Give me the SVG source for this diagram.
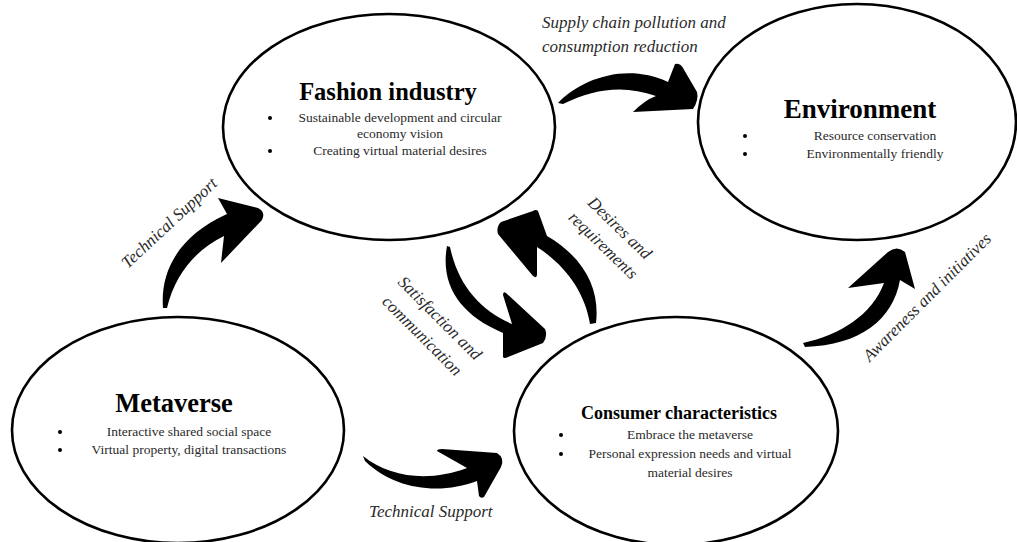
<svg xmlns="http://www.w3.org/2000/svg" width="1017" height="542" viewBox="0 0 1017 542">
<style>
.node ellipse{fill:#fff;stroke:#000;stroke-width:2.6}
.title{font-family:"Liberation Serif",serif;font-weight:bold;fill:#000;text-anchor:middle}
.item{font-family:"Liberation Serif",serif;font-size:13.5px;fill:#2a2a2a;text-anchor:middle}
.bul{fill:#000}
.lbl{font-family:"Liberation Serif",serif;font-style:italic;font-size:17px;fill:#2a2a2a}
.arr{fill:#000}
</style>
<rect width="1017" height="542" fill="#fff"/>
<g id="fashion" class="node">
<ellipse cx="389" cy="127" rx="166" ry="113"/>
<text class="title" x="388" y="100" font-size="24.5">Fashion industry</text>
<circle class="bul" cx="270" cy="118" r="2"/>
<text class="item" x="400" y="122">Sustainable development and circular</text>
<text class="item" x="400" y="138">economy vision</text>
<circle class="bul" cx="270" cy="151" r="2"/>
<text class="item" x="400" y="155">Creating virtual material desires</text>
</g>
<g id="environment" class="node">
<ellipse cx="857" cy="122" rx="159" ry="118"/>
<text class="title" x="860" y="118" font-size="27">Environment</text>
<circle class="bul" cx="745" cy="136" r="2"/>
<text class="item" x="875" y="140">Resource conservation</text>
<circle class="bul" cx="745" cy="154" r="2"/>
<text class="item" x="875" y="158">Environmentally friendly</text>
</g>
<g id="metaverse" class="node">
<ellipse cx="178" cy="430" rx="166" ry="113"/>
<text class="title" x="174" y="412" font-size="26.5">Metaverse</text>
<circle class="bul" cx="60" cy="432" r="2"/>
<text class="item" x="189" y="436">Interactive shared social space</text>
<circle class="bul" cx="60" cy="450" r="2"/>
<text class="item" x="189" y="454">Virtual property, digital transactions</text>
</g>
<g id="consumer" class="node">
<ellipse cx="676" cy="431" rx="162" ry="114"/>
<text class="title" x="679" y="419" font-size="18">Consumer characteristics</text>
<circle class="bul" cx="561" cy="435" r="2"/>
<text class="item" x="690" y="439">Embrace the metaverse</text>
<circle class="bul" cx="561" cy="454" r="2"/>
<text class="item" x="690" y="458">Personal expression needs and virtual</text>
<text class="item" x="690" y="477">material desires</text>
</g>
<g id="connectors">
<path class="arr" d="M163,308 C160,270 180,235 227,214 L218,198 L258,208 Q266,212 262,220 L221,263 L224,236 C195,250 175,275 167,308 Z"/>
<path class="arr" d="M558,103 C580,80 625,62 668,82 L675,64 Q680,63 683,68 L697,92 Q699,100 693,109 L633,112 Q645,100 656,96 C625,85 595,88 563,104 Z"/>
<path class="arr" d="M803,343 C840,335 872,315 884,283 L848,288 L888,252 Q897,245 905,252 L915,289 L900,280 C893,320 860,345 805,347 Z"/>
<path class="arr" d="M363,456 C390,478 430,482 467,468 L437,451 Q437,449 442,449 L497,453 Q505,458 501,467 L484,497 Q481,499 479,496 L477,481 C440,495 395,490 365,461 Z"/>
<path class="arr" d="M447,246 C440,285 460,315 503,333 L503,357 Q504,359 508,357 L543,343 Q548,336 545,329 L506,293 Q503,291 503,295 L512,324 C480,310 458,285 450,247 Z"/>
<path class="arr" d="M596,323 C600,290 585,258 547,236 L538,211 Q536,209 533,211 L501,222 Q496,227 498,234 L533,276 Q537,279 537,274 L537,247 C565,265 585,292 590,324 Z"/>
<text class="lbl" x="542" y="28">Supply chain pollution and</text>
<text class="lbl" x="542" y="52">consumption reduction</text>
<text class="lbl" x="369" y="517">Technical Support</text>
<text class="lbl" text-anchor="middle" transform="translate(173,227) rotate(-43)">Technical Support</text>
<text class="lbl" text-anchor="middle" transform="translate(931,301) rotate(-45)">Awareness and initiatives</text>
<g transform="translate(616,232) rotate(44)">
<text class="lbl" text-anchor="middle" x="0" y="0">Desires and</text>
<text class="lbl" text-anchor="middle" x="0" y="24">requirements</text>
</g>
<g transform="translate(436,322) rotate(45)">
<text class="lbl" text-anchor="middle" x="0" y="0">Satisfaction and</text>
<text class="lbl" text-anchor="middle" x="0" y="25">communication</text>
</g>
</g>
</svg>
